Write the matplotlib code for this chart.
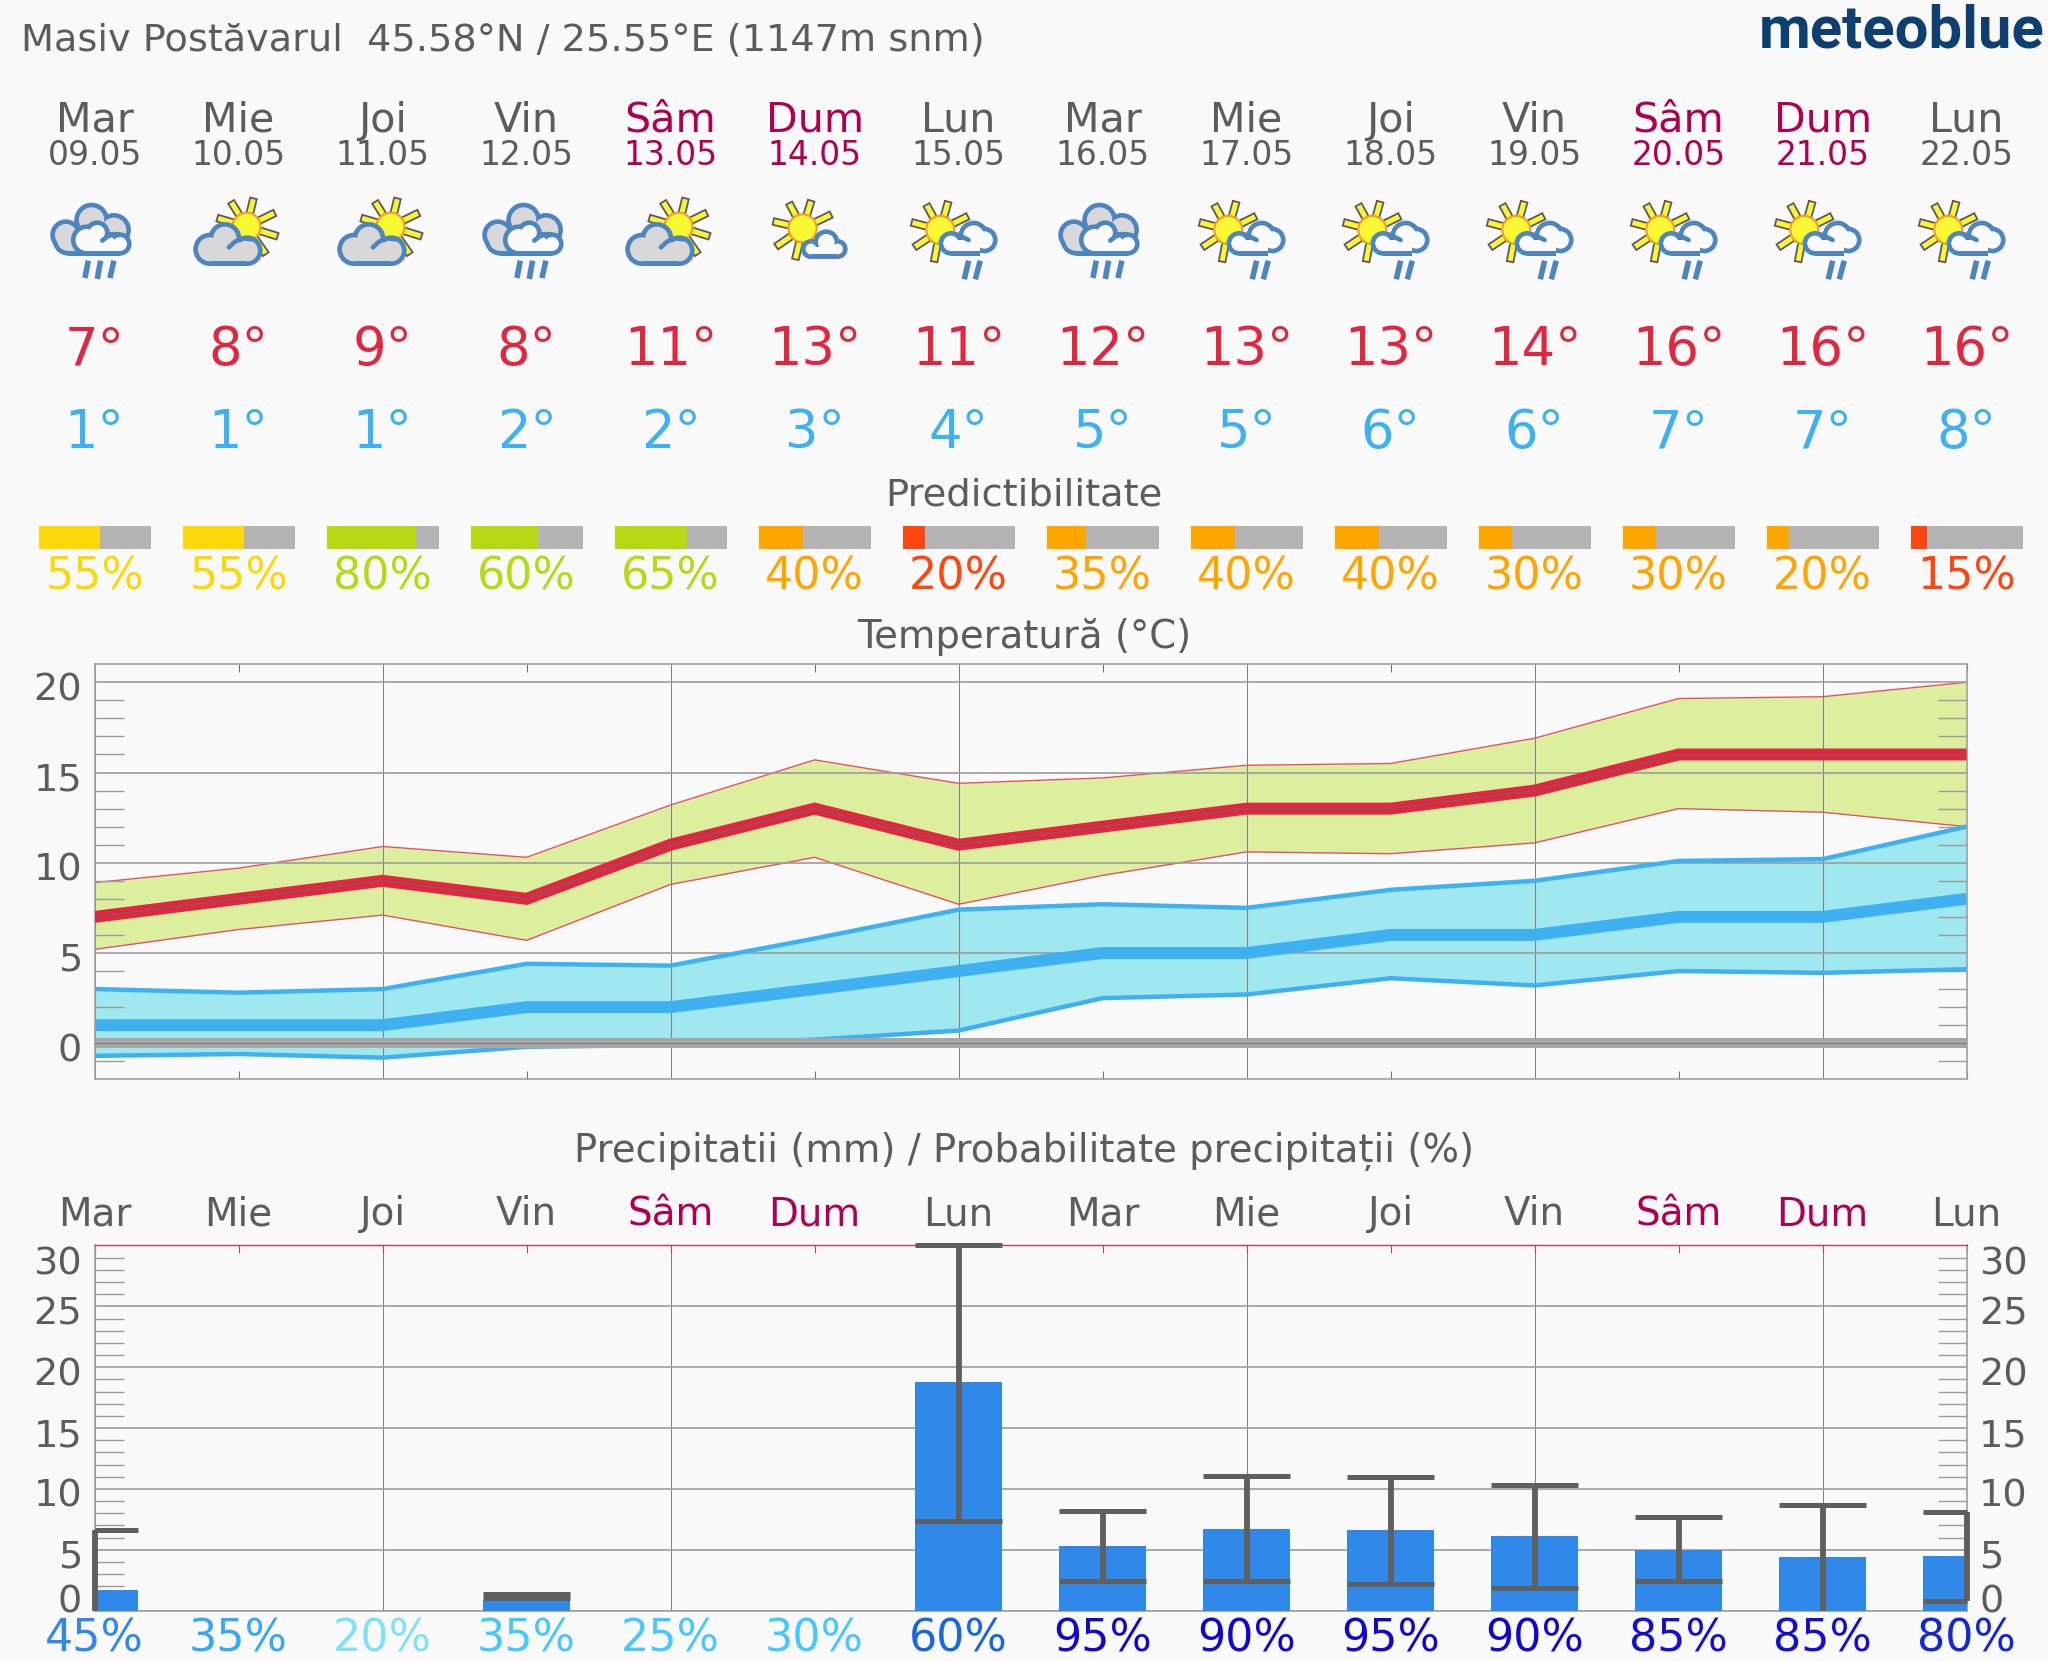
import numpy as np
import matplotlib
matplotlib.use("Agg")
import matplotlib.pyplot as plt
from matplotlib.patches import Ellipse, Polygon, Rectangle
from matplotlib.ticker import FixedLocator
from matplotlib.transforms import Affine2D

plt.rcParams['font.family'] = 'DejaVu Sans'

# ---------- data ----------
title_text = "Masiv Postăvarul  45.58°N / 25.55°E (1147m snm)"
day_names = ["Mar", "Mie", "Joi", "Vin", "Sâm", "Dum", "Lun", "Mar", "Mie", "Joi", "Vin", "Sâm", "Dum", "Lun"]
dates = ["09.05", "10.05", "11.05", "12.05", "13.05", "14.05", "15.05", "16.05", "17.05", "18.05", "19.05", "20.05", "21.05", "22.05"]
weekend = [0, 0, 0, 0, 1, 1, 0, 0, 0, 0, 0, 1, 1, 0]
icons = ["A", "B", "B", "A", "B", "C", "D", "A", "D", "D", "D", "D", "D", "D"]

tmax = [7, 8, 9, 8, 11, 13, 11, 12, 13, 13, 14, 16, 16, 16]
tmin = [1, 1, 1, 2, 2, 3, 4, 5, 5, 6, 6, 7, 7, 8]
tmax_hi = [8.9, 9.7, 10.9, 10.3, 13.2, 15.7, 14.4, 14.7, 15.4, 15.5, 16.9, 19.1, 19.2, 20.0]
tmax_lo = [5.2, 6.3, 7.1, 5.7, 8.8, 10.3, 7.7, 9.3, 10.6, 10.5, 11.1, 13.0, 12.8, 12.0]
tmin_hi = [3.0, 2.8, 3.0, 4.4, 4.3, 5.8, 7.4, 7.7, 7.5, 8.5, 9.0, 10.1, 10.2, 12.0]
tmin_lo = [-0.7, -0.6, -0.8, -0.2, -0.1, 0.2, 0.7, 2.5, 2.7, 3.6, 3.2, 4.0, 3.9, 4.1]

predictability = [55, 55, 80, 60, 65, 40, 20, 35, 40, 40, 30, 30, 20, 15]
pred_colors = ["#fcd80a", "#fcd80a", "#b6d916", "#b6d916", "#b6d916", "#ffa500", "#ff4510", "#ffa500",
               "#ffa500", "#ffa500", "#ffa500", "#ffa500", "#ffa500", "#ff4510"]

precip = [1.7, 0, 0, 0.88, 0, 0, 18.8, 5.3, 6.7, 6.6, 6.1, 5.0, 4.4, 4.5]
precip_lo = [0, 0, 0, 1.05, 0, 0, 7.4, 2.4, 2.4, 2.2, 1.9, 2.4, 0, 0.8]
precip_hi = [6.6, 0, 0, 1.4, 0, 0, 30, 8.2, 11.1, 11.0, 10.3, 7.7, 8.7, 8.1]
precip_prob = [45, 35, 20, 35, 25, 30, 60, 95, 90, 95, 90, 85, 85, 80]
prob_colors = ["#3088e8", "#38a8f0", "#80e0f5", "#48c8fa", "#48c8fa", "#48c8fa", "#1a66dc", "#1408c8",
               "#1408c8", "#1408c8", "#1408c8", "#1410cc", "#1410cc", "#1428d0"]

days = np.arange(14)

# ---------- styles ----------
W, H = 2048, 1661
BG = "#f9f9f9"
TXT = "#5c5c5c"
WKND = "#b0004f"
RED = "#e2263f"
BLUE = "#3fb0f0"
CL_BLUE = "#4f85bf"
X0, X1 = 94.6, 1966.6
PX_DAY = (X1 - X0) / 13

fig = plt.figure(figsize=(W / 100, H / 100), dpi=100, facecolor=BG)
hdr = fig.add_axes([0, 0, 1, 1], zorder=0)
hdr.set_xlim(0, W)
hdr.set_ylim(H, 0)
hdr.axis("off")


def cx(i):
    return X0 + i * PX_DAY


# ---------- icons (geometry in units of 1/3 pixel) ----------
def to_px(c, zx, zy, z0):
    return c + (zx - z0) / 3, 190 + zy / 3


def cloud(c, z0, lobes, fill, z, base=None):
    sw = 14
    for (x, y, r) in lobes:
        px, py = to_px(c, x, y, z0)
        d = 2 * (r + sw / 2) / 3
        hdr.add_patch(Ellipse((px, py), d, d, fc=CL_BLUE, ec="none", zorder=z))
    if base:
        px, py = to_px(c, base[0], base[1], z0)
        hdr.add_patch(Rectangle((px, py), (base[2] - base[0]) / 3, (base[3] - base[1]) / 3, fc=CL_BLUE, ec="none", zorder=z))
    for (x, y, r) in lobes:
        px, py = to_px(c, x, y, z0)
        d = 2 * (r - sw / 2) / 3
        hdr.add_patch(Ellipse((px, py), d, d, fc=fill, ec="none", zorder=z + 0.1))
    if base:
        px, py = to_px(c, base[0], base[1], z0)
        hdr.add_patch(Rectangle((px, py), (base[2] - base[0]) / 3, (base[3] - base[1] - sw) / 3, fc=fill, ec="none", zorder=z + 0.1))


def stroke(c, z0, pts, z, w=4.6, col=CL_BLUE, cap="round"):
    xy = [to_px(c, x, y, z0) for x, y in pts]
    hdr.plot([p[0] for p in xy], [p[1] for p in xy], color=col, lw=w * 0.72, solid_capstyle=cap,
             solid_joinstyle="round", zorder=z)


def sun(c, z0, sx, sy, ends, z):
    px, py = to_px(c, sx, sy, z0)
    for (ex, ey) in ends:
        qx, qy = to_px(c, ex, ey, z0)
        d = np.array([qx - px, qy - py])
        u = d / np.hypot(*d)
        n = np.array([-u[1], u[0]]) * 3.4
        a = np.array([px, py]) + u * 11
        b = np.array([qx, qy]) + u * 1
        hdr.add_patch(Polygon([a + n, b + n, b - n, a - n], closed=True, fc="#f9f33a", ec="#5a5a5a", lw=1.3, zorder=z))
    hdr.add_patch(Ellipse((px, py), 28, 28, fc="#f9f933", ec="#f5a020", lw=1.6, zorder=z + 0.1))


def icon(kind, c):
    if kind == "A":
        z0 = 164
        cloud(c, z0, [(78, 135, 40), (85, 150, 40), (155, 90, 45), (222, 120, 44)], "#d8d8d8", 5, base=(85, 140, 230, 197))
        cloud(c, z0, [(140, 150, 40), (172, 128, 30), (205, 160, 28), (240, 162, 28)], "#fbfbfb", 6, base=(140, 150, 240, 197))
        stroke(c, z0, [(187, 152), (202, 140), (222, 132), (240, 134)], 7)
        for a, b in [((145, 212), (135, 264)), ((182, 212), (172, 267)), ((222, 212), (210, 264))]:
            stroke(c, z0, [a, b], 5, w=5.6, cap="butt")
    elif kind == "B":
        z0 = 596
        sun(c, z0, 620, 110, [(575, 38), (640, 28), (702, 70), (710, 138), (535, 85), (676, 190)], 4)
        cloud(c, z0, [(510, 178, 43), (555, 145, 42), (585, 175, 30), (622, 182, 39)], "#d8d8d8", 6, base=(510, 170, 622, 228))
        stroke(c, z0, [(567, 172), (585, 155), (610, 145), (635, 148)], 7)
    elif kind == "C":
        z0 = 163
        sun(c, z0, 127, 115, [(88, 42), (152, 35), (210, 75), (42, 95), (50, 168), (106, 205)], 4)
        cloud(c, z0, [(152, 177, 23), (198, 157, 32), (232, 177, 23)], "#fbfbfb", 6, base=(152, 170, 232, 207))
    else:
        z0 = 595
        sun(c, z0, 540, 120, [(500, 47), (563, 38), (620, 80), (457, 98), (465, 170), (522, 212)], 4)
        cloud(c, z0, [(572, 160, 30), (640, 137, 38), (672, 150, 33)], "#fbfbfb", 6, base=(572, 150, 660, 197))
        stroke(c, z0, [(590, 133), (625, 150)], 7)
        for a, b in [((625, 212), (612, 268)), ((660, 212), (645, 268))]:
            stroke(c, z0, [a, b], 5, w=5.6, cap="butt")


# ---------- header ----------
hdr.text(21, 50, title_text, color=TXT, fontsize=27.5, ha="left", va="baseline")
hdr.text(2044, 48, "meteoblue", color="#0f3f70", fontsize=43, fontweight="bold", family="Roboto",
         ha="right", va="baseline")

for i in days:
    c = cx(i)
    col = WKND if weekend[i] else TXT
    hdr.text(c, 132, day_names[i], color=col, fontsize=29.7, ha="center", va="baseline")
    hdr.text(c, 165, dates[i], color=col, fontsize=23.8, ha="center", va="baseline")
    icon(icons[i], c)
    hdr.text(c, 365, f"{tmax[i]}°", color=RED, fontsize=38, ha="center", va="baseline")
    hdr.text(c, 448, f"{tmin[i]}°", color=BLUE, fontsize=38, ha="center", va="baseline")
    hdr.add_patch(Rectangle((c - 56, 526), 112, 22.5, fc="#b4b4b4", ec="none"))
    hdr.barh(537.25, 112 * predictability[i] / 100, height=22.5, left=c - 56, color=pred_colors[i], zorder=2)
    hdr.text(c, 589, f"{predictability[i]}%", color=pred_colors[i], fontsize=32, ha="center", va="baseline")
    hdr.text(c, 1225, day_names[i], color=col, fontsize=28, ha="center", va="baseline")
    hdr.text(c, 1652, f"{precip_prob[i]}%", color=prob_colors[i], fontsize=32, ha="center", va="baseline")

hdr.set_xlim(0, W)
hdr.set_ylim(H, 0)
hdr.text(1024, 505.5, "Predictibilitate", color=TXT, fontsize=27.7, ha="center", va="baseline")
hdr.text(1024, 647.5, "Temperatură (°C)", color=TXT, fontsize=27.8, ha="center", va="baseline")
hdr.text(1024, 1162, "Precipitatii (mm) / Probabilitate precipitații (%)", color=TXT, fontsize=27.8,
         ha="center", va="baseline")


def make_axes(top, bottom):
    ax = fig.add_axes([X0 / W, 1 - bottom / H, (X1 - X0) / W, (bottom - top) / H], zorder=2)
    ax.set_facecolor(BG)
    ax.set_xlim(0, 13)
    ax.set_xticks(np.arange(0, 14, 2))
    ax.set_xticklabels([])
    ax.xaxis.set_minor_locator(FixedLocator(np.arange(1, 14, 2)))
    ax.grid(True, axis="x", which="major", color="#808080", lw=0.75)
    ax.grid(True, axis="y", which="major", color="#9c9c9c", lw=1.2)
    for s in ax.spines.values():
        s.set_color("#a0a0a0")
        s.set_linewidth(1.2)
    ax.tick_params(axis="y", which="major", length=0, labelsize=27.5, labelcolor=TXT, pad=9)
    ax.tick_params(axis="y", which="minor", length=21, width=1.0, color="#9c9c9c", direction="in",
                   left=True, right=True)
    ax.tick_params(axis="x", which="major", length=0)
    return ax


def shift_labels(ax, shifts, right=False):
    for tick, loc in zip(ax.yaxis.get_major_ticks(), ax.get_yticks()):
        off = Affine2D().translate(0, shifts.get(int(loc), -4))
        tick.label1.set_transform(tick.label1.get_transform() + off)
        if right:
            tick.label2.set_transform(tick.label2.get_transform() + off)


# ---------- temperature ----------
ax_t = make_axes(663.7, 1079.3)
ax_t.set_ylim(-2, 21.03)
ax_t.set_yticks(np.arange(0, 21, 5))
ax_t.yaxis.set_minor_locator(FixedLocator(np.arange(-1, 20)))
ax_t.tick_params(axis="x", which="minor", length=6, width=0.8, color="#707070", direction="in", top=True, bottom=True)
shift_labels(ax_t, {})

ax_t.fill_between(days, tmax_lo, tmax_hi, color="#dbef9e", lw=0, zorder=1)
ax_t.plot(days, tmax_hi, color="#e8506a", lw=1.0, zorder=1.5)
ax_t.plot(days, tmax_lo, color="#e8506a", lw=1.0, zorder=1.5)
ax_t.fill_between(days, tmin_lo, tmin_hi, color="#a0e8f0", lw=0, zorder=1.1)
ax_t.plot(days, tmin_hi, color=BLUE, lw=3.2, zorder=1.6, solid_capstyle="butt")
ax_t.plot(days, tmin_lo, color=BLUE, lw=3.2, zorder=1.6, solid_capstyle="butt")
ax_t.plot(days, tmin, color=BLUE, lw=8.6, zorder=2, solid_capstyle="butt", solid_joinstyle="miter")
ax_t.axhline(0, color="#a6a6a6", lw=7.2, zorder=2.2)
ax_t.axhline(0, color="#808080", lw=0.9, zorder=2.7)
ax_t.plot(days, tmax, color=RED, lw=8.6, zorder=3, solid_capstyle="butt", solid_joinstyle="miter")
ax_t.plot(days, tmax, color="#6a6a6a", lw=0.8, zorder=3.1)

# ---------- precipitation ----------
PINK = "#c8396e"
ax_p = make_axes(1245, 1610.7)
ax_p.set_ylim(0, 30.04)
ax_p.set_yticks(np.arange(0, 31, 5))
ax_p.yaxis.set_minor_locator(FixedLocator([v for v in range(1, 30) if v % 5]))
ax_p.spines["top"].set_color(PINK)
ax_p.spines["top"].set_linewidth(1.0)
ax_p.tick_params(axis="x", which="both", length=6, width=0.8, color=PINK, direction="in", top=True, bottom=False)
ax_p.tick_params(axis="y", which="major", labelright=True)
shift_labels(ax_p, {0: 12, 30: -15}, right=True)

ax_p.bar(days, precip, width=0.605, color="#3088e8", zorder=3)
for d, lo, hi in zip(days, precip_lo, precip_hi):
    if hi > 0:
        ax_p.vlines(d, lo, hi, color="#5f5f5f", lw=4.2, zorder=4, clip_on=False)
        xa, xb = max(0, d - 0.3025), min(13, d + 0.3025)
        caps = [hi] if lo == 0 else [lo, hi]
        ax_p.hlines(caps, xa, xb, color="#5f5f5f", lw=3.6, zorder=4, clip_on=False)

fig.savefig("out.png", dpi=100, facecolor=BG)
